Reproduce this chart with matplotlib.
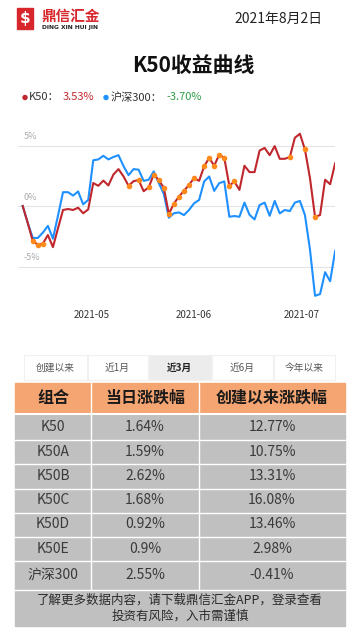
import matplotlib
matplotlib.use("Agg")
import matplotlib.pyplot as plt
from matplotlib.patches import Rectangle, Circle

plt.rcParams["font.family"] = ["Noto Sans CJK SC", "DejaVu Sans"]

# ---- data ----
k50 = [0.0, -1.4, -2.9, -3.2, -3.1, -2.4, -3.4, -1.85, -0.33, -0.25,
       -0.33, -0.14, -0.6, -0.28, 1.9, 1.67, 2.1, 1.7, 2.6, 3.05,
       2.45, 1.67, 2.05, 2.15, 1.22, 1.55, 2.6, 2.15, 1.5, -0.65,
       0.2, 0.78, 1.25, 1.75, 2.3, 2.08, 3.28, 3.97, 3.33, 4.25,
       3.97, 1.67, 2.03, 1.33, 3.33, 2.8, 2.8, 4.58, 4.8, 4.2,
       4.95, 3.9, 3.9, 4.05, 5.64, 5.97, 4.67, 2.3, -0.89, -0.75,
       2.17, 1.8, 3.53]
hs300 = [0.0, -1.4, -2.64, -2.64, -2.2, -1.64, -2.7, -0.8, 1.14, 1.14,
         0.86, 1.2, 0.14, 0.5, 3.78, 3.85, 4.15, 3.85, 4.05, 4.2,
         3.3, 2.55, 3.05, 3.0, 2.08, 2.17, 2.86, 1.9, 1.0, -0.97,
         -0.6, -0.53, -0.75, -0.33, 0.22, 0.5, 2.03, 2.44, 1.25, 1.89,
         2.03, -0.89, -0.83, -0.89, 0.28, -0.72, -1.11, 0.08, 0.28, -0.81,
         0.42, -0.61, -0.33, -0.42, 0.28, 0.42, -0.75, -3.6, -7.42, -7.28,
         -5.47, -6.22, -3.70]
# days with a marker on the K50 curve
marked_days = [2, 3, 4, 21, 23, 25, 26, 27, 28, 29, 30, 31, 32, 33, 34,
               36, 37, 38, 39, 40, 41, 42, 53, 56, 58]
month_labels = ["2021-05", "2021-06", "2021-07"]
month_pos = [13.6, 34.0, 55.4]
y_ticks = [5, 0, -5]

tabs = ["创建以来", "近1月", "近3月", "近6月", "今年以来"]
selected_tab = "近3月"

headers = ["组合", "当日涨跌幅", "创建以来涨跌幅"]
names = ["K50", "K50A", "K50B", "K50C", "K50D", "K50E", "沪深300"]
daily = ["1.64%", "1.59%", "2.62%", "1.68%", "0.92%", "0.9%", "2.55%"]
since = ["12.77%", "10.75%", "13.31%", "16.08%", "13.46%", "2.98%", "-0.41%"]
footer = "了解更多数据内容，请下载鼎信汇金APP，登录查看\n投资有风险，入市需谨慎"

RED = "#c0272d"
BLUE = "#1e90ff"
ORANGE = "#ff8a1c"

W, H = 360, 640
fig = plt.figure(figsize=(3.6, 6.4), dpi=100)
fig.patch.set_facecolor("white")

# overlay axes in pixel coordinates for everything outside the chart
ov = fig.add_axes([0, 0, 1, 1])
ov.set_xlim(0, W)
ov.set_ylim(H, 0)
ov.axis("off")

# ---- header: logo, date ----
ov.add_patch(Rectangle((17, 8), 16, 21, color="#d7262c"))
ov.text(25, 18.5, "$", color="white", fontsize=11, fontweight="bold",
        ha="center", va="center", family="DejaVu Sans")
ov.text(41, 16, "鼎信汇金", color="#d7262c", fontsize=10.5,
        fontweight="bold", ha="left", va="center")
ov.text(42, 27, "DING XIN HUI JIN", color="#222222", fontsize=4.3,
        fontweight="bold", ha="left", va="center", family="DejaVu Sans")
ov.text(323, 18.5, "2021年8月2日", color="#222222", fontsize=10,
        ha="right", va="center")

ov.text(193, 66.5, "K50收益曲线", color="#111111", fontsize=15,
        fontweight="bold", ha="center", va="center")

# legend
ov.add_patch(Circle((25, 97.5), 2.0, color=RED))
ov.text(29, 97.5, "K50：", fontsize=8, color="#333333", ha="left", va="center")
ov.text(63, 97.5, "3.53%", fontsize=8, color=RED, ha="left", va="center")
ov.add_patch(Circle((106, 97.5), 2.0, color=BLUE))
ov.text(111, 97.5, "沪深300：", fontsize=8, color="#333333", ha="left", va="center")
ov.text(166, 97.5, "-3.70%", fontsize=8, color="#2e9e44", ha="left", va="center")

# ---- line chart ----
step = 5.04
x_left = 22.7 - step
y_top = 206 - 7 * 12.1
ax_h = 15 * 12.1
ax = fig.add_axes([x_left / W, 1 - (y_top + ax_h) / H, 63 * step / W, ax_h / H])
ax.set_xlim(-1, 62)
ax.set_ylim(-8, 7)
ax.axis("off")

days = list(range(len(k50)))
for v in y_ticks:
    ax.axhline(v, color="#e3e3e3", lw=0.8, zorder=0)
    ax.annotate(f"{v}%", (0.2, v), xytext=(0, 3), textcoords="offset points",
                fontsize=6.5, color="#aaaaaa", ha="left", va="bottom")

ax.plot(days, hs300, color=BLUE, lw=1.5, zorder=2)
ax.plot(days, k50, color=RED, lw=1.5, zorder=3)
ax.scatter([days[i] for i in marked_days], [k50[i] for i in marked_days],
           s=16, color=ORANGE, zorder=4, linewidths=0)

for pos, lab in zip(month_pos, month_labels):
    ax.annotate(lab, (pos, -8), xytext=(0, -9), textcoords="offset points",
                fontsize=7, color="#333333", ha="center", va="center")

# ---- tabs ----
tab_edges = [23, 87, 148, 211, 273, 335]
for i, t in enumerate(tabs):
    x0, x1 = tab_edges[i], tab_edges[i + 1]
    sel = t == selected_tab
    ov.add_patch(Rectangle((x0 + 0.5, 355), x1 - x0 - 1, 25,
                           facecolor="#ececec" if sel else "white",
                           edgecolor="#f0f0f0", lw=0.8))
    ov.text((x0 + x1) / 2, 367.5, t, fontsize=7,
            color="#222222" if sel else "#555555",
            fontweight="bold" if sel else "normal", ha="center", va="center")

# ---- table ----
col_edges = [15, 91, 199, 345]
ov.add_patch(Rectangle((15, 383), 330, 30, color="#f5a571"))
for i, h in enumerate(headers):
    ov.text((col_edges[i] + col_edges[i + 1]) / 2, 398, h, fontsize=11.5,
            fontweight="bold", color="#1a1a1a", ha="center", va="center")

row_edges = [415, 439.5, 464, 488.5, 512.5, 536.5, 561, 589.5]
ov.add_patch(Rectangle((15, 415), 330, 626 - 415, color="#c0c0c0"))
for y in row_edges[1:]:
    ov.plot([15, 345], [y, y], color="white", lw=1.0)
for x in col_edges[1:-1]:
    ov.plot([x, x], [383, 589.5], color="white", lw=1.0)
ov.plot([15, 345], [414, 414], color="white", lw=1.5)

for r, (n, d, s) in enumerate(zip(names, daily, since)):
    yc = (row_edges[r] + row_edges[r + 1]) / 2
    for c, txt in enumerate([n, d, s]):
        ov.text((col_edges[c] + col_edges[c + 1]) / 2, yc, txt, fontsize=10,
                color="#3a3a3a", ha="center", va="center")

ov.text(180, 608, footer, fontsize=9, color="#2a2a2a", ha="center",
        va="center", linespacing=1.25)

fig.savefig("out.png", dpi=100, facecolor="white")
